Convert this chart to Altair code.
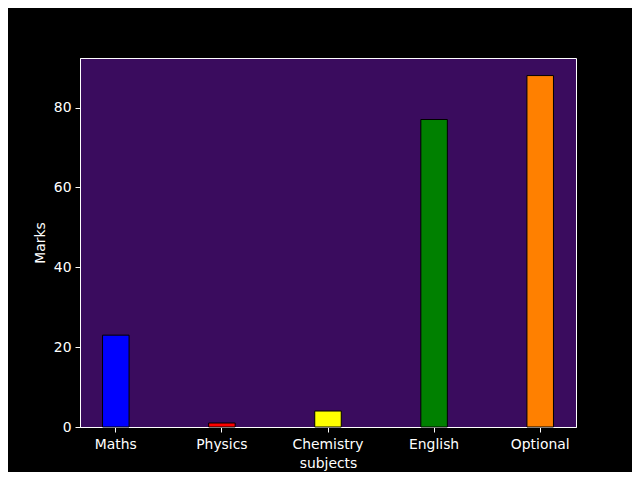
import altair as alt
import pandas as pd

subjects = ["Maths", "Physics", "Chemistry", "English", "Optional"]
marks = [23, 1, 4, 77, 88]
colors = ["#0000ff", "#ff0000", "#ffff00", "#008000", "#ff8000"]

df = pd.DataFrame({"subject": subjects, "marks": marks, "color": colors})

font = "DejaVu Sans"
chart = alt.Chart(df).mark_bar(stroke="black", strokeWidth=1).encode(
    x=alt.X("subject:N", sort=subjects,
            scale=alt.Scale(paddingInner=0.75, paddingOuter=0.2125),
            axis=alt.Axis(title="subjects", labelAngle=0, titlePadding=6, labelPadding=5)),
    y=alt.Y("marks:Q", scale=alt.Scale(domain=[0, 92.4], nice=False),
            axis=alt.Axis(title="Marks", values=[0, 20, 40, 60, 80], titlePadding=6, labelPadding=4)),
    color=alt.Color("color:N", scale=None),
).properties(
    width=496, height=369,
    autosize=alt.AutoSizeParams(type="none"),
    padding={"left": 72, "top": 50, "right": 56, "bottom": 45},
    background="black",
).configure_view(
    fill="#3a0c5e", stroke="white", strokeWidth=1
).configure_axis(
    grid=False, domainColor="white", tickColor="white", labelColor="white",
    titleColor="white", labelFont=font, titleFont=font, labelFontSize=13.9,
    titleFontSize=13.9, titleFontWeight="normal", tickSize=5, domain=True,
)

chart.save("out.html", embed_options={"renderer": "svg", "actions": False})
